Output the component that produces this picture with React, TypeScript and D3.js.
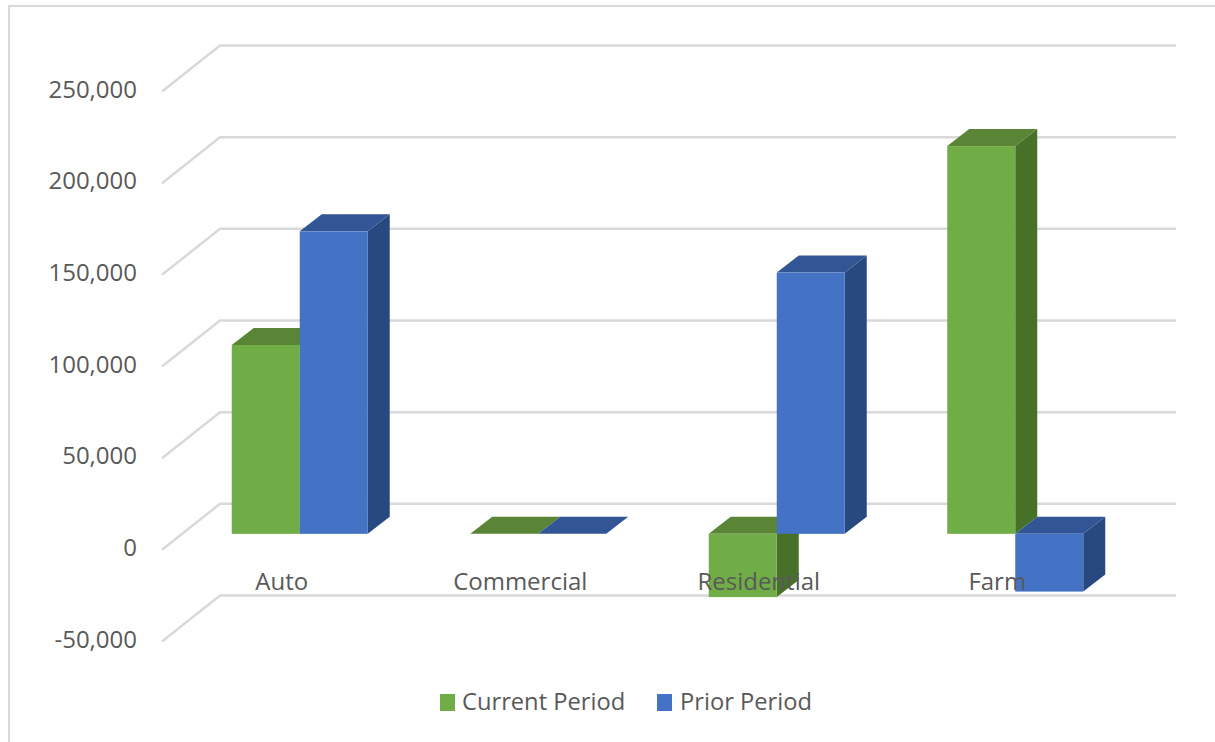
import React from "react";
import * as d3 from "d3";

const categories = ["Auto", "Commercial", "Residential", "Farm"];
const seriesNames = ["Current Period", "Prior Period"];
const currentPeriod = [103000, 0, -34500, 211500];
const priorPeriod = [165000, 0, 142500, -31500];
const tickValues = [-50000, 0, 50000, 100000, 150000, 200000, 250000];

const faceColors = [
  { front: "#70ad47", top: "#5a8436", side: "#477129" },
  { front: "#4472c4", top: "#325595", side: "#284880" },
];

const W = 1215;
const H = 742;
const FONT = "'Open Sans', sans-serif";
const TEXT = "#595959";
const GRID = "#d9d9d9";

// Depth offsets of the 3D floor and of the bars' extrusion.
const WALL_DX = 58;
const WALL_DY = 46;
const BAR_PLANE_DY = 30;
const BAR_DX = 22;
const BAR_DY = 17;
const BAR_W = 68;

const yBack = d3.scaleLinear().domain([-50000, 250000]).range([595.5, 45.5]);
const xBand = d3.scaleBand<string>().domain(categories).range([180.5, 1134.5]);
// Plain hyphen for negatives, as spreadsheet axes print them.
const tickFormat = (v: number) => d3.format(",")(v).replace("\u2212", "-");

function Bar({ x, value, colors }: { x: number; value: number; colors: (typeof faceColors)[number] }) {
  const yZero = yBack(0) + BAR_PLANE_DY;
  const yValue = yBack(value) + BAR_PLANE_DY;
  const top = Math.min(yZero, yValue);
  const bottom = Math.max(yZero, yValue);
  const r = x + BAR_W;
  return (
    <g>
      <polygon
        fill={colors.side}
        points={`${r},${top} ${r + BAR_DX},${top - BAR_DY} ${r + BAR_DX},${bottom - BAR_DY} ${r},${bottom}`}
      />
      <polygon
        fill={colors.top}
        points={`${x},${top} ${x + BAR_DX},${top - BAR_DY} ${r + BAR_DX},${top - BAR_DY} ${r},${top}`}
      />
      <rect x={x} y={top} width={BAR_W} height={bottom - top} fill={colors.front} />
    </g>
  );
}

export default function App() {
  const series = [currentPeriod, priorPeriod];
  const legend = [
    { swatch: 440, label: 462 },
    { swatch: 657, label: 680 },
  ];
  return (
    <svg
      width={W}
      height={H}
      viewBox={`0 0 ${W} ${H}`}
      style={{ position: "fixed", left: 0, top: 0, background: "#fff" }}
      fontFamily={FONT}
    >
      {/* Chart frame: open at the right and at the bottom */}
      <path d={`M9,${H} V6 H${W}`} fill="none" stroke={GRID} strokeWidth={2} />

      {/* Gridlines across the side wall and the back wall */}
      {tickValues.map((v) => (
        <path
          key={v}
          d={`M${220 - WALL_DX},${yBack(v) + WALL_DY} L220,${yBack(v)} H1176`}
          fill="none"
          stroke={GRID}
          strokeWidth={2.5}
        />
      ))}

      {/* Value axis labels */}
      {tickValues.map((v) => (
        <text
          key={v}
          x={137}
          y={yBack(v) + WALL_DY + 6}
          textAnchor="end"
          fontSize={24}
          fill={TEXT}
        >
          {tickFormat(v)}
        </text>
      ))}

      {/* Extruded bars, series by series inside each category */}
      {categories.map((c, i) => {
        const center = (xBand(c) as number) + xBand.bandwidth() / 2;
        return (
          <g key={c}>
            {series.map((values, s) => (
              <Bar key={s} x={center - BAR_W + s * BAR_W} value={values[i]} colors={faceColors[s]} />
            ))}
          </g>
        );
      })}

      {/* Category labels sit above the bars */}
      {categories.map((c) => (
        <text
          key={c}
          x={(xBand(c) as number) + xBand.bandwidth() / 2 - 18}
          y={590}
          textAnchor="middle"
          fontSize={24}
          fill={TEXT}
        >
          {c}
        </text>
      ))}

      {/* Legend */}
      {seriesNames.map((name, s) => (
        <g key={name}>
          <rect x={legend[s].swatch} y={694} width={15} height={17} fill={faceColors[s].front} />
          <text x={legend[s].label} y={710} fontSize={23.7} fill={TEXT}>
            {name}
          </text>
        </g>
      ))}
    </svg>
  );
}
